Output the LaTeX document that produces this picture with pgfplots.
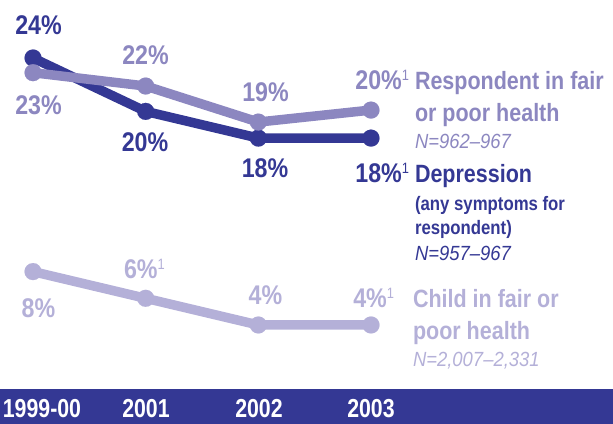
\documentclass[border=0pt]{standalone}
\usepackage{fontspec}
\setmainfont{Liberation Sans}
\newfontfamily\pf{Liberation Sans}[FakeStretch=0.86]
\newfontfamily\yf{Liberation Sans}[FakeStretch=0.82]
\newfontfamily\nf{Liberation Sans}[FakeStretch=0.9]
\usepackage{pgfplots}
\pgfplotsset{compat=1.18}
\definecolor{cdep}{RGB}{52,56,148}
\definecolor{cresp}{RGB}{140,135,192}
\definecolor{cchild}{RGB}{180,176,216}
\newcommand{\pct}{\pf\bfseries\fontsize{27bp}{30bp}\selectfont}
\newcommand{\nsup}[1]{\raisebox{9bp}{\pf\mdseries\fontsize{15bp}{16bp}\selectfont #1}}
\newcommand{\ttl}{\pf\bfseries\fontsize{25bp}{28bp}\selectfont}
\newcommand{\subt}{\pf\bfseries\fontsize{19.5bp}{22bp}\selectfont}
\newcommand{\nn}{\nf\itshape\fontsize{20.5bp}{23bp}\selectfont}
\newcommand{\yr}{\yf\bfseries\fontsize{26bp}{28bp}\selectfont}
\begin{document}
\begin{tikzpicture}
\useasboundingbox (0,0) rectangle (613bp,424bp);
\begin{scope}
\clip (0,0) rectangle (613bp,424bp);
\fill[cdep] (0,0) rectangle (613bp,35bp);
\begin{axis}[at={(0,0)}, anchor=south west, scale only axis,
  width=613bp, height=424bp,
  xmin=-0.293, xmax=5.148, ymin=-3.416, ymax=28.345,
  hide axis, clip=false]
\addplot[cdep, line width=9.5bp, line join=round, mark=*, mark size=8.5bp, mark options={line width=0.1pt}]
  coordinates {(0,24) (1,20.0) (2,18) (3,18)};
\addplot[cresp, line width=9.5bp, line join=round, mark=*, mark size=8.5bp, mark options={line width=0.1pt}]
  coordinates {(0,22.9) (1,21.9) (2,19.2) (3,20.1)};
\addplot[cchild, line width=9.5bp, line join=round, mark=*, mark size=8.5bp, mark options={line width=0.1pt}]
  coordinates {(0,8) (1,6) (2,4) (3,4)};
\end{axis}
\begin{scope}[shift={(0,424bp)}, x=1bp, y=-1bp, every node/.style={inner sep=0pt, outer sep=0pt}]
% percent labels
\node[cdep, anchor=base] at (38.5,35) {\pct 24\%};
\node[cresp, anchor=base] at (38.5,115) {\pct 23\%};
\node[cresp, anchor=base] at (145.5,65) {\pct 22\%};
\node[cdep, anchor=base] at (145,152) {\pct 20\%};
\node[cresp, anchor=base] at (265.5,102) {\pct 19\%};
\node[cdep, anchor=base] at (265,178) {\pct 18\%};
\node[cresp, anchor=base east] at (409,90) {\pct 20\%\nsup{1}};
\node[cdep, anchor=base east] at (409,183) {\pct 18\%\nsup{1}};
\node[cchild, anchor=base] at (38.5,318) {\pct 8\%};
\node[cchild, anchor=base west] at (124,279) {\pct 6\%\nsup{1}};
\node[cchild, anchor=base] at (265.5,305) {\pct 4\%};
\node[cchild, anchor=base east] at (394,308) {\pct 4\%\nsup{1}};
% series titles
\node[cresp, anchor=base west] at (415,90) {\ttl Respondent in fair};
\node[cresp, anchor=base west] at (415,122) {\ttl or poor health};
\node[cresp, anchor=base west] at (415,149) {\nn N=962–967};
\node[cdep, anchor=base west] at (415,183) {\ttl Depression};
\node[cdep, anchor=base west] at (415,211) {\subt (any symptoms for};
\node[cdep, anchor=base west] at (415,235) {\subt respondent)};
\node[cdep, anchor=base west] at (415,261) {\nn N=957–967};
\node[cchild, anchor=base west] at (413,308) {\ttl Child in fair or};
\node[cchild, anchor=base west] at (413,340) {\ttl poor health};
\node[cchild, anchor=base west] at (413,367) {\nn N=2,007–2,331};
% years
\node[white, anchor=base] at (42,418) {\yr 1999-00};
\node[white, anchor=base] at (146,418) {\yr 2001};
\node[white, anchor=base] at (259,418) {\yr 2002};
\node[white, anchor=base] at (371,418) {\yr 2003};
\end{scope}
\end{scope}
\end{tikzpicture}
\end{document}
